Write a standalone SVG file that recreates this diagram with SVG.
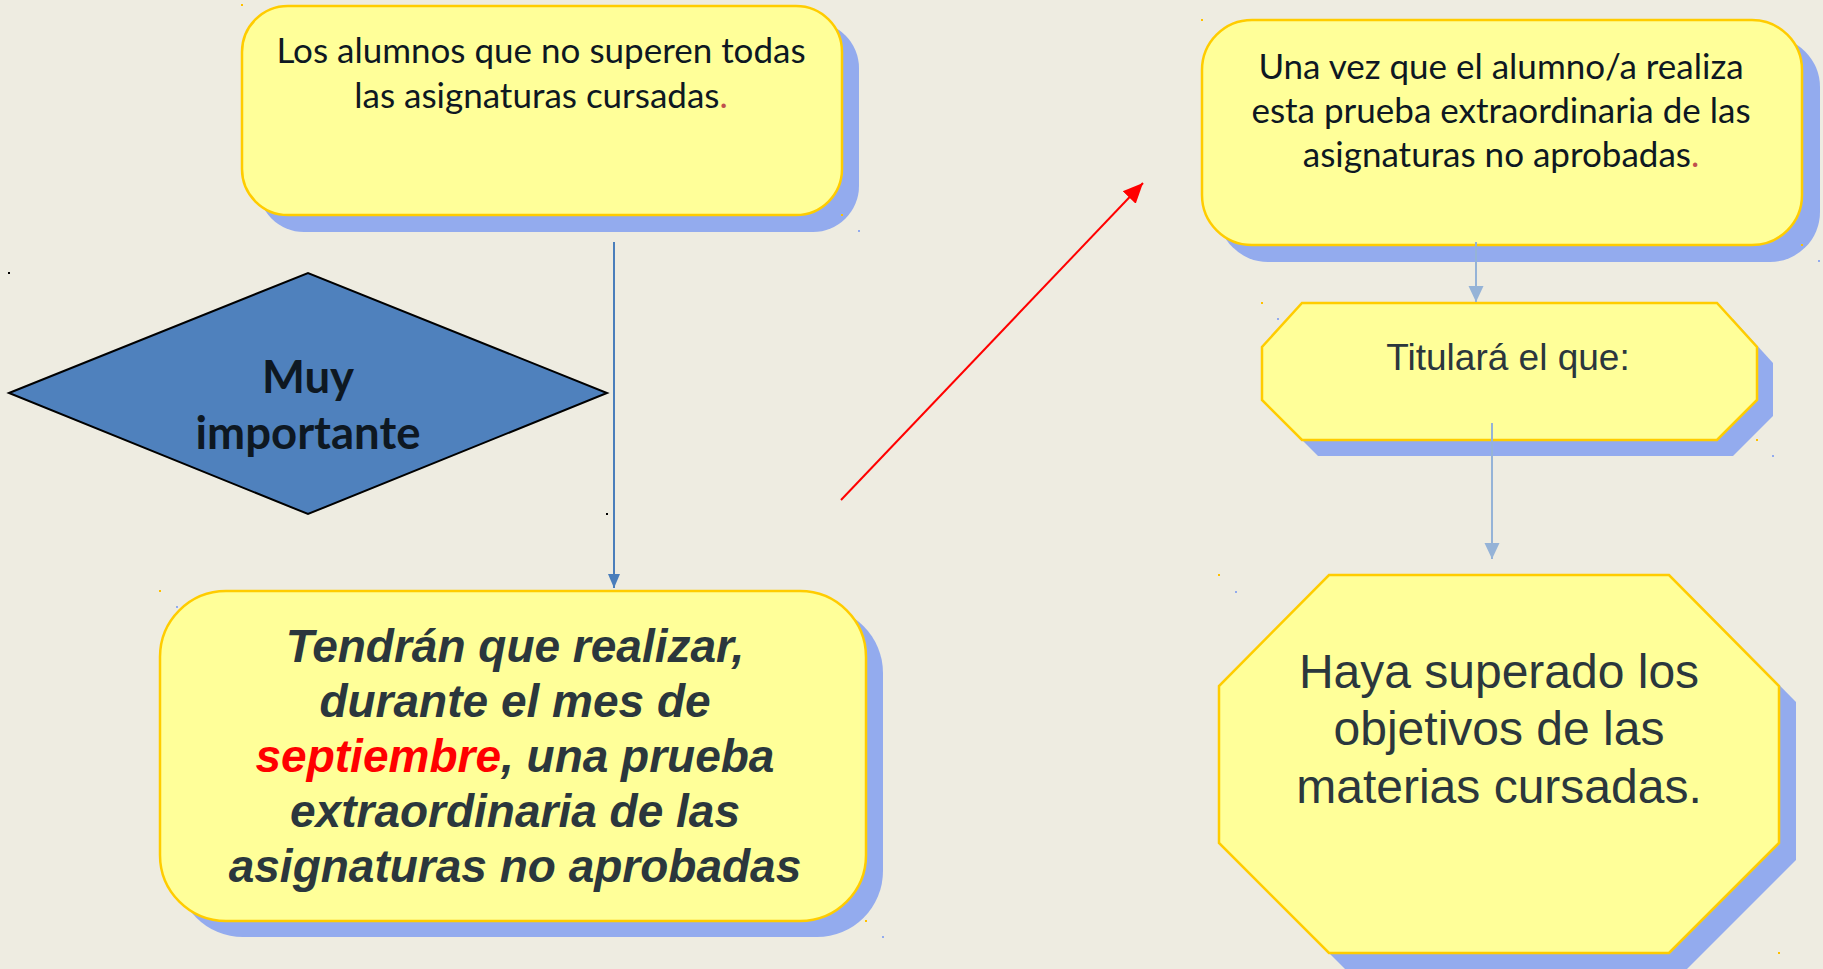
<svg xmlns="http://www.w3.org/2000/svg" width="1823" height="969" viewBox="0 0 1823 969">
<defs>
<style>
.box{fill:#FFFF99;stroke:#FFCC00;stroke-width:2.5}
.shadow{fill:#93ABEE}
.cal{font-family:Lato,"Open Sans",sans-serif;fill:#0E1822;text-anchor:middle}
.ari{font-family:"Liberation Sans",Arial,sans-serif;fill:#2B373D;text-anchor:middle}
.dot{stroke:none}
</style>
<marker id="ahBlue" markerUnits="userSpaceOnUse" markerWidth="16" markerHeight="16" viewBox="0 0 16 16" refX="14" refY="8" orient="auto"><path d="M0,2 L14,8 L0,14 z" fill="#4A7EBB"/></marker>
<marker id="ahLight" markerUnits="userSpaceOnUse" markerWidth="18" markerHeight="18" viewBox="0 0 18 18" refX="16" refY="9" orient="auto"><path d="M0,1.5 L16,9 L0,16.5 z" fill="#95B3D7"/></marker>
<marker id="ahRed" markerUnits="userSpaceOnUse" markerWidth="22" markerHeight="22" viewBox="0 0 22 22" refX="20" refY="11" orient="auto"><path d="M0,2 L20,11 L0,20 z" fill="#FF0000"/></marker>
</defs>
<rect width="1823" height="969" fill="#EEECE1"/>

<g id="node-alumnos">
<rect class="shadow" x="258" y="22" width="601" height="210" rx="46"/>
<rect class="box" x="242" y="6" width="600" height="209" rx="46"/>
<text class="cal" font-size="35" x="541" y="63">Los alumnos que no superen todas</text>
<text class="cal" font-size="35" x="541" y="108">las asignaturas cursadas<tspan fill="#C0504D">.</tspan></text>
</g>

<g id="node-muy-importante">
<polygon points="9,393 308,273 607,393 308,514" fill="#4F81BD" stroke="#000" stroke-width="2"/>
<text class="cal" font-size="45.5" font-weight="bold" fill="#0A1628" x="308" y="393">Muy</text>
<text class="cal" font-size="45.5" font-weight="bold" fill="#0A1628" x="308" y="449">importante</text>
</g>

<g id="node-tendran">
<rect class="shadow" x="177" y="607" width="706" height="330" rx="66"/>
<rect class="box" x="160" y="591" width="706" height="330" rx="66"/>
<g class="ari" font-size="46" font-weight="bold" font-style="italic">
<text x="515" y="662">Tendrán que realizar,</text>
<text x="515" y="717">durante el mes de</text>
<text x="515" y="772"><tspan fill="#FF0000">septiembre</tspan>, una prueba</text>
<text x="515" y="827">extraordinaria de las</text>
<text x="515" y="882">asignaturas no aprobadas</text>
</g>
</g>

<g id="node-una-vez">
<rect class="shadow" x="1218" y="37" width="602" height="225" rx="50"/>
<rect class="box" x="1202" y="20" width="600" height="225" rx="50"/>
<text class="cal" font-size="35" x="1501" y="79">Una vez que el alumno/a realiza</text>
<text class="cal" font-size="35" x="1501" y="123">esta prueba extraordinaria de las</text>
<text class="cal" font-size="35" x="1501" y="167">asignaturas no aprobadas<tspan fill="#C0504D">.</tspan></text>
</g>

<g id="node-titulara">
<polygon class="shadow" points="1318,319 1733,319 1773,363 1773,416 1733,456 1318,456 1278,416 1278,363"/>
<polygon class="box" points="1302,303 1717,303 1757,347 1757,400 1717,440 1302,440 1262,400 1262,347"/>
<text class="ari" font-size="37" x="1508" y="370">Titulará el que:</text>
</g>

<g id="node-haya">
<polygon class="shadow" points="1346,591 1686,591 1796,702 1796,860 1686,970 1346,970 1236,860 1236,702"/>
<polygon class="box" points="1329,575 1669,575 1779,686 1779,843 1669,953 1329,953 1219,843 1219,686"/>
<text class="ari" font-size="48" x="1499" y="688">Haya superado los</text>
<text class="ari" font-size="48" x="1499" y="745">objetivos de las</text>
<text class="ari" font-size="48" x="1499" y="803">materias cursadas.</text>
</g>

<g id="connectors" fill="none">
<line x1="614" y1="242" x2="614" y2="588" stroke="#4A7EBB" stroke-width="2" marker-end="url(#ahBlue)"/>
<line x1="841" y1="500" x2="1143" y2="183" stroke="#FF0000" stroke-width="2" marker-end="url(#ahRed)"/>
<line x1="1476" y1="242" x2="1476" y2="302" stroke="#95B3D7" stroke-width="2" marker-end="url(#ahLight)"/>
<line x1="1492" y1="423" x2="1492" y2="559" stroke="#95B3D7" stroke-width="2" marker-end="url(#ahLight)"/>
</g>

<g id="marks" class="dot">
<rect x="8" y="272" width="2" height="2" fill="#000"/>
<rect x="606" y="513" width="2" height="2" fill="#000"/>
<rect x="241" y="4" width="2" height="2" fill="#FFC000"/>
<rect x="841" y="214" width="2" height="2" fill="#FFC000"/>
<rect x="858" y="230" width="2" height="2" fill="#93ABEE"/>
<rect x="1201" y="19" width="2" height="2" fill="#FFC000"/>
<rect x="1801" y="244" width="2" height="2" fill="#FFC000"/>
<rect x="1818" y="260" width="2" height="2" fill="#93ABEE"/>
<rect x="1261" y="302" width="2" height="2" fill="#FFC000"/>
<rect x="1277" y="318" width="2" height="2" fill="#93ABEE"/>
<rect x="1756" y="439" width="2" height="2" fill="#FFC000"/>
<rect x="1772" y="455" width="2" height="2" fill="#93ABEE"/>
<rect x="1218" y="574" width="2" height="2" fill="#FFC000"/>
<rect x="1235" y="591" width="2" height="2" fill="#93ABEE"/>
<rect x="1778" y="952" width="2" height="2" fill="#FFC000"/>
<rect x="159" y="590" width="2" height="2" fill="#FFC000"/>
<rect x="176" y="606" width="2" height="2" fill="#93ABEE"/>
<rect x="865" y="920" width="2" height="2" fill="#FFC000"/>
<rect x="882" y="936" width="2" height="2" fill="#93ABEE"/>
</g>
</svg>
